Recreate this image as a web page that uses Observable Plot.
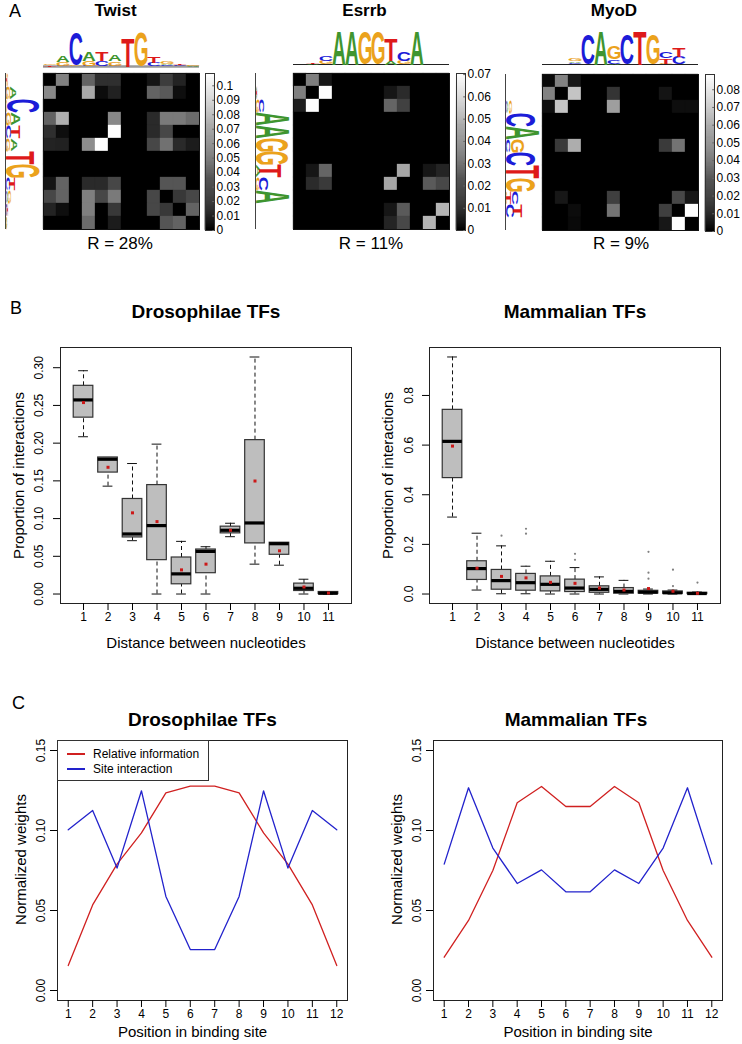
<!DOCTYPE html>
<html><head><meta charset="utf-8">
<script src="https://cdn.jsdelivr.net/npm/d3@7"></script>
<script src="https://cdn.jsdelivr.net/npm/@observablehq/plot@0.6"></script>
<style>
body{margin:0;background:#fff;}
#fig{position:relative;width:742px;height:1044px;overflow:hidden;background:#fff;font-family:"Liberation Sans",Arial,Helvetica,sans-serif;}
</style></head><body><div id="fig"></div>
<script>
// ---------------- DATA ----------------
const positions = [1,2,3,4,5,6,7,8,9,10,11,12];
const motifNames = ["Twist","Esrrb","MyoD"];
const motifR = ["R = 28%","R = 11%","R = 9%"];

// Panel A: interaction matrices (rows/cols = positions 1..12)
const twistMatrix = [
  [0,0.055,0,0.042,0.02,0.02,0,0,0.009,0.026,0.015,0],
  [0.058,0,0,0.072,0.005,0.014,0,0,0.042,0.038,0.006,0],
  [0,0,0,0,0,0,0,0,0,0,0,0],
  [0.042,0.075,0,0,0,0.058,0,0,0.018,0.052,0.052,0.046],
  [0.02,0.006,0,0,0,0.108,0,0,0.018,0.03,0,0],
  [0.015,0.014,0,0.06,0.108,0,0,0,0.03,0.048,0.018,0.012],
  [0,0,0,0,0,0,0,0,0,0,0,0],
  [0,0,0,0,0,0,0,0,0,0,0,0],
  [0.009,0.042,0,0.018,0.018,0.03,0,0,0,0.036,0.036,0],
  [0.03,0.042,0,0.054,0.03,0.052,0,0,0.03,0,0.024,0.03],
  [0.015,0.006,0,0.054,0,0.024,0,0,0.03,0.024,0,0.042],
  [0,0,0,0.046,0,0.012,0,0,0,0.036,0.042,0]
];
const esrrbMatrix = [
  [0,0.035,0.006,0,0,0,0,0,0,0,0,0],
  [0.035,0,0.07,0,0,0,0,0.006,0.012,0,0,0],
  [0.008,0.07,0,0,0,0,0,0.028,0.018,0,0,0],
  [0,0,0,0,0,0,0,0,0,0,0,0],
  [0,0,0,0,0,0,0,0,0,0,0,0],
  [0,0,0,0,0,0,0,0,0,0,0,0],
  [0,0,0,0,0,0,0,0,0,0,0,0],
  [0,0.006,0.028,0,0,0,0,0,0.046,0,0.006,0.01],
  [0,0.012,0.016,0,0,0,0,0.046,0,0,0.025,0.02],
  [0,0,0,0,0,0,0,0,0,0,0,0],
  [0,0,0,0,0,0,0,0.006,0.025,0,0,0.05],
  [0,0,0,0,0,0,0,0.01,0.02,0,0.05,0]
];
const myodMatrix = [
  [0.003,0.045,0.008,0,0,0,0,0,0,0,0,0],
  [0.045,0,0.068,0,0,0.018,0,0,0,0.007,0,0],
  [0.005,0.068,0,0,0,0.055,0,0,0,0,0.005,0.005],
  [0,0,0,0,0,0,0,0,0,0,0,0],
  [0,0,0,0,0,0,0,0,0,0,0,0],
  [0,0.02,0.06,0,0,0,0,0,0,0.02,0.04,0],
  [0,0,0,0,0,0,0,0,0,0,0,0],
  [0,0,0,0,0,0,0,0,0,0,0,0],
  [0,0,0,0,0,0,0,0,0,0,0,0],
  [0,0.008,0,0,0,0.022,0,0,0,0,0.025,0.008],
  [0,0,0.004,0,0,0.04,0,0,0,0.022,0,0.088],
  [0,0,0.003,0,0,0,0,0,0,0.008,0.088,0]
];
const colorbarMax = [0.1085, 0.0705, 0.0886];
const twistBarTicks = [0,0.01,0.02,0.03,0.04,0.05,0.06,0.07,0.08,0.09,0.1];
const esrrbBarTicks = [0,0.01,0.02,0.03,0.04,0.05,0.06,0.07];
const myodBarTicks = [0,0.01,0.02,0.03,0.04,0.05,0.06,0.07,0.08];

// sequence logos: per position, [letter, bits] from bottom to top
const twistLogo = [
  [["T",0.06],["G",0.06]],
  [["C",0.05],["G",0.2],["A",0.38]],
  [["G",0.06],["C",1.9]],
  [["C",0.05],["G",0.28],["A",0.5]],
  [["G",0.05],["C",0.28],["T",0.5]],
  [["C",0.05],["G",0.25],["A",0.38]],
  [["T",1.65]],
  [["G",1.95]],
  [["C",0.18],["T",0.38]],
  [["C",0.06],["A",0.08],["G",0.12]],
  [["G",0.05],["C",0.05],["T",0.1]],
  [["A",0.04],["G",0.07]]
];
const esrrbLogo = [
  [],
  [["A",0.04],["T",0.06]],
  [["G",0.22],["C",0.3]],
  [["A",1.9]],
  [["A",1.9]],
  [["G",1.9]],
  [["G",1.9]],
  [["A",0.22],["T",1.28]],
  [["G",0.2],["C",0.52]],
  [["A",1.9]],
  [],
  []
];
const myodLogo = [
  [],
  [],
  [["C",0.1],["A",0.1],["G",0.12]],
  [["C",1.72]],
  [["A",1.9]],
  [["A",0.05],["C",0.24],["G",0.76]],
  [["C",1.72]],
  [["T",1.9]],
  [["G",1.72]],
  [["G",0.05],["T",0.3],["C",0.38]],
  [["C",0.44],["T",0.5]],
  []
];

// Panel B: boxplot statistics per distance
const distances = [1,2,3,4,5,6,7,8,9,10,11];
const droWhiskLow  = [0.2085,0.143,0.0707,0,0,0,0.076,0.0396,0.0382,0,0];
const droQ1        = [0.2338,0.161,0.075,0.0449,0.0129,0.0276,0.0804,0.0671,0.052,0.004,0];
const droMedian    = [0.2573,0.1787,0.0796,0.0907,0.0267,0.0565,0.0845,0.0942,0.0667,0.0076,0.001];
const droQ3        = [0.276,0.181,0.126,0.1444,0.0484,0.059,0.0893,0.204,0.068,0.0138,0.0027];
const droWhiskHigh = [0.296,0.181,0.173,0.1987,0.0698,0.0627,0.0938,0.3142,0.068,0.0196,0.003];
const droMean      = [0.2538,0.168,0.1076,0.096,0.032,0.0396,0.0845,0.1498,0.0573,0.0093,0.0013];

const mamWhiskLow  = [0.31,0.016,0.001,0.001,0,0,0,0,0,0,0];
const mamQ1        = [0.467,0.0567,0.0174,0.0134,0.0105,0.008,0.005,0.0013,0.002,0.001,0];
const mamMedian    = [0.615,0.1025,0.054,0.0457,0.039,0.024,0.0188,0.0105,0.0075,0.005,0.002];
const mamQ3        = [0.742,0.132,0.097,0.081,0.071,0.058,0.031,0.024,0.013,0.0105,0.005];
const mamWhiskHigh = [0.955,0.245,0.194,0.112,0.132,0.1065,0.069,0.055,0.02,0.016,0.008];
const mamMean      = [0.596,0.104,0.071,0.065,0.047,0.043,0.024,0.016,0.022,0.011,0.003];
const mamOutDist   = [3,4,4,6,6,9,9,9,10,10,11];
const mamOutVal    = [0.235,0.263,0.243,0.162,0.1377,0.17,0.086,0.062,0.098,0.032,0.046];

const droYTicks = [0,0.05,0.10,0.15,0.20,0.25,0.30];
const mamYTicks = [0,0.2,0.4,0.6,0.8];

// Panel C: normalized weights per position
const droRelInfo = [0.0156,0.0535,0.079,0.0985,0.1235,0.1277,0.1277,0.1235,0.0985,0.079,0.0535,0.0156];
const droSiteInt = [0.1004,0.1125,0.0765,0.1248,0.0588,0.0256,0.0256,0.0588,0.1248,0.0765,0.1125,0.1004];
const mamRelInfo = [0.0208,0.0438,0.075,0.1173,0.1275,0.115,0.115,0.1275,0.1173,0.075,0.0438,0.0208];
const mamSiteInt = [0.079,0.1267,0.089,0.0669,0.0754,0.0617,0.0617,0.0754,0.0669,0.089,0.1267,0.079];
const weightTicks = [0,0.05,0.10,0.15];
const legendLabels = ["Relative information","Site interaction"];

// ---------------- STYLE ----------------
const FONT = '"Liberation Sans", Arial, Helvetica, sans-serif';
const LETTER_COLORS = {A:"#3f952f", C:"#1c1cd8", G:"#eba21c", T:"#de1a1a"};
const RED = "#d02020", BLUE = "#2222cc";
const baseStyle = {fontFamily: FONT, fontSize: "12px", color: "#000", background: "transparent", overflow: "visible"};
const mid = {textAnchor: "middle", lineAnchor: "middle"};

const fig = document.getElementById("fig");
function place(node, left, top) {
  node.style.position = "absolute";
  node.style.left = left + "px";
  node.style.top = top + "px";
  fig.appendChild(node);
  return node;
}
function label(text, x, capCenterY, size, {bold = false, anchor = "start"} = {}) {
  const div = document.createElement("div");
  div.textContent = text;
  div.style.cssText = `position:absolute;white-space:nowrap;line-height:1;font-size:${size}px;font-weight:${bold ? "bold" : "normal"};font-family:${FONT};color:#000;`;
  div.style.left = x + "px";
  div.style.top = (capCenterY - 0.49 * size) + "px";
  if (anchor === "middle") div.style.transform = "translateX(-50%)";
  fig.appendChild(div);
  return div;
}

// ---------------- PANEL A ----------------
function heatmap(matrix, max) {
  const cells = matrix.flatMap((row, r) => row.map((v, c) => ({r, c, v})));
  return Plot.plot({
    width: 156, height: 156, margin: 0, style: baseStyle,
    x: {type: "band", domain: d3.range(12), padding: 0, axis: null},
    y: {type: "band", domain: d3.range(12), padding: 0, axis: null},
    color: {type: "linear", domain: [0, max], range: ["black", "white"], clamp: true},
    marks: [
      Plot.cell(cells, {x: "c", y: "r", fill: "v", stroke: "v", strokeWidth: 0.3}),
      Plot.frame({stroke: "#111"})
    ]
  });
}

function colorbar(max, ticks) {
  const slices = d3.range(160).map(i => [i * max / 160, (i + 1) * max / 160]);
  return Plot.plot({
    width: 50, height: 175, marginTop: 8, marginBottom: 10, marginLeft: 5, marginRight: 36,
    style: baseStyle,
    x: {domain: [0, 1], axis: null},
    y: {domain: [0, max], axis: null},
    color: {type: "linear", domain: [0, max], range: ["black", "white"]},
    marks: [
      Plot.rect(slices, {x1: 0, x2: 1, y1: d => d[0], y2: d => d[1], fill: d => (d[0] + d[1]) / 2, stroke: d => (d[0] + d[1]) / 2, strokeWidth: 0.5}),
      Plot.frame({stroke: "#333"}),
      Plot.ruleY(ticks, {y: d => d, x1: 0.8, x2: 1, stroke: "#666"}),
      Plot.text(ticks, {y: d => d, text: d => String(+d.toFixed(2)), frameAnchor: "right", textAnchor: "start", lineAnchor: "middle", dx: 2, fontSize: 12})
    ]
  });
}

const ctx = document.createElement("canvas").getContext("2d");
ctx.font = 'bold 100px "Liberation Sans"';
ctx.textAlign = "left"; ctx.textBaseline = "alphabetic";
const metricCache = {};
function metrics(ch) {
  if (!metricCache[ch]) {
    const m = ctx.measureText(ch);
    const L = m.actualBoundingBoxLeft, R = m.actualBoundingBoxRight;
    const A = m.actualBoundingBoxAscent, D = m.actualBoundingBoxDescent;
    metricCache[ch] = {L, A, D, w: L + R, h: A + D};
  }
  return metricCache[ch];
}

function logo(cols, orient, {axisStroke = "#222", axisWidth = 1} = {}) {
  const letters = [];
  cols.forEach((col, c) => {
    let y = 0;
    col.forEach(([letter, bits]) => { letters.push({pos: c + 1, letter, y0: y, y1: y + bits}); y += bits; });
  });
  const top = orient === "top";
  const plot = Plot.plot({
    width: top ? 156 : 40, height: top ? 40 : 156, margin: 0, style: baseStyle,
    x: top ? {domain: [0.5, 12.5], range: [0, 156], axis: null} : {domain: [0, 2], range: [3, 38], axis: null},
    y: top ? {domain: [0, 2], range: [37, 2], axis: null} : {domain: [0.5, 12.5], range: [0, 156], axis: null},
    color: {type: "identity"},
    marks: [
      top ? Plot.ruleY([0], {stroke: axisStroke, strokeWidth: axisWidth})
          : Plot.ruleX([0], {stroke: axisStroke, strokeWidth: axisWidth}),
      Plot.text(letters, top
        ? {x: "pos", y: d => (d.y0 + d.y1) / 2, text: "letter", fill: d => LETTER_COLORS[d.letter]}
        : {y: "pos", x: d => (d.y0 + d.y1) / 2, text: "letter", fill: d => LETTER_COLORS[d.letter]})
    ]
  });
  const xs = plot.scale("x"), ys = plot.scale("y");
  const texts = plot.querySelectorAll('g[aria-label="text"] text');
  texts.forEach((t, i) => {
    const d = letters[i];
    const m = metrics(d.letter);
    t.setAttribute("x", 0); t.setAttribute("y", 0); t.setAttribute("dy", 0);
    t.setAttribute("text-anchor", "start");
    t.style.fontSize = "100px"; t.style.fontWeight = "bold"; t.style.fontFamily = '"Liberation Sans"';
    t.style.dominantBaseline = "alphabetic";
    let mat;
    if (top) {
      const X0 = xs.apply(d.pos - 0.5), X1 = xs.apply(d.pos + 0.5);
      const Yb = ys.apply(d.y0), Yt = ys.apply(d.y1);
      const a = (X1 - X0) / m.w, dd = (Yb - Yt) / m.h;
      mat = [a, 0, 0, dd, X0 + m.L * a, Yt + m.A * dd];
    } else {
      const Y0 = ys.apply(d.pos - 0.5), Y1 = ys.apply(d.pos + 0.5);
      const Xb = xs.apply(d.y0), Xt = xs.apply(d.y1);
      const S = Y1 - Y0, H = Xt - Xb;
      mat = [0, S / m.w, -H / m.h, 0, Xb + m.D * H / m.h, Y0 + m.L * S / m.w];
    }
    t.setAttribute("transform", `matrix(${mat.join(",")})`);
  });
  return plot;
}

const heatLeft = [43, 293, 542];
const heatTop = [73, 73, 74];
const matrices = [twistMatrix, esrrbMatrix, myodMatrix];
const logos = [twistLogo, esrrbLogo, myodLogo];
const barTicks = [twistBarTicks, esrrbBarTicks, myodBarTicks];
const logoBaseline = [66, 63.5, 64];
const leftAxisX = [5, 255, 505];
const barLeft = [205, 456, 705];
const titleX = [115.5, 364.5, 614];
const rX = [120, 371, 621];

for (let k = 0; k < 3; k++) {
  place(heatmap(matrices[k], colorbarMax[k]), heatLeft[k], heatTop[k]);
  const topOpts = k === 0 ? {axisStroke: "#9a9a9a", axisWidth: 2.5} : {axisStroke: "#222", axisWidth: 1};
  place(logo(logos[k], "top", topOpts), heatLeft[k], logoBaseline[k] - 37);
  place(logo(logos[k], "left", {axisStroke: "#444", axisWidth: 1}), leftAxisX[k] - 3, heatTop[k]);
  place(colorbar(colorbarMax[k], barTicks[k]), barLeft[k] - 5, heatTop[k] - 8);
  label(motifNames[k], titleX[k], 10.5, 17, {bold: true, anchor: "middle"});
  label(motifR[k], rX[k], 243, 17, {anchor: "middle"});
}
label("A", 9, 11, 18);

// ---------------- PANEL B ----------------
function boxPlot({lo, q1, med, q3, hi, mean, outX = [], outY = [], yDomain, yTicks, fmt, width, marginLeft, marginRight, tickDx, titleDx}) {
  const rows = distances.map((d, i) => ({d, lo: lo[i], q1: q1[i], med: med[i], q3: q3[i], hi: hi[i], mean: mean[i]}));
  const outs = outX.map((d, i) => ({d, v: outY[i]}));
  return Plot.plot({
    width, height: 330, marginTop: 17, marginBottom: 57, marginLeft, marginRight,
    style: baseStyle,
    x: {domain: [0.06, 11.94]},
    y: {domain: yDomain},
    marks: [
      Plot.ruleX(rows, {x: "d", y1: "q3", y2: "hi", stroke: "#111", strokeDasharray: "4,3"}),
      Plot.ruleX(rows, {x: "d", y1: "lo", y2: "q1", stroke: "#111", strokeDasharray: "4,3"}),
      Plot.ruleY(rows, {y: "hi", x1: r => r.d - 0.2, x2: r => r.d + 0.2, stroke: "#111"}),
      Plot.ruleY(rows, {y: "lo", x1: r => r.d - 0.2, x2: r => r.d + 0.2, stroke: "#111"}),
      Plot.rect(rows, {x1: r => r.d - 0.4, x2: r => r.d + 0.4, y1: "q1", y2: "q3", fill: "#bebebe", stroke: "#333", strokeWidth: 1.2}),
      Plot.ruleY(rows, {y: "med", x1: r => r.d - 0.4, x2: r => r.d + 0.4, stroke: "#000", strokeWidth: 3.2}),
      Plot.dot(outs, {x: "d", y: "v", r: 1.1, fill: "#808080"}),
      Plot.dot(rows, {x: "d", y: "mean", symbol: "square", r: 1.7, fill: "#cc1818"}),
      Plot.frame({stroke: "#222"}),
      Plot.axisX({ticks: distances, tickSize: 7, tickPadding: 2, fontSize: 12, label: null}),
      Plot.axisY({ticks: yTicks, tickSize: 7, tickFormat: () => "", label: null}),
      Plot.text(yTicks, {y: d => d, text: fmt, frameAnchor: "left", ...mid, dx: tickDx, rotate: -90, fontSize: 12}),
      Plot.text(["Proportion of interactions"], {text: d => d, frameAnchor: "left", ...mid, dx: titleDx, rotate: -90, fontSize: 15}),
      Plot.text(["Distance between nucleotides"], {text: d => d, frameAnchor: "bottom", ...mid, dy: 40, fontSize: 15})
    ]
  });
}

place(boxPlot({lo: droWhiskLow, q1: droQ1, med: droMedian, q3: droQ3, hi: droWhiskHigh, mean: droMean,
  yDomain: [-0.01257, 0.3268], yTicks: droYTicks, fmt: d => d.toFixed(2),
  width: 370, marginLeft: 60, marginRight: 19, tickDx: -21, titleDx: -41.5}), 0, 330);
place(boxPlot({lo: mamWhiskLow, q1: mamQ1, med: mamMedian, q3: mamQ3, hi: mamWhiskHigh, mean: mamMean,
  outX: mamOutDist, outY: mamOutVal,
  yDomain: [-0.0382, 0.9932], yTicks: mamYTicks, fmt: d => d.toFixed(1),
  width: 372, marginLeft: 59, marginRight: 22, tickDx: -20, titleDx: -41}), 370, 330);
label("B", 10, 307.5, 18);
label("Drosophilae TFs", 206, 311.5, 19, {bold: true, anchor: "middle"});
label("Mammalian TFs", 575, 311.5, 19, {bold: true, anchor: "middle"});

// ---------------- PANEL C ----------------
function linePlot(rel, site, {width, marginLeft, marginRight, titleDx}) {
  const rows = positions.map((p, i) => ({p, rel: rel[i], site: site[i]}));
  return Plot.plot({
    width, height: 314, marginTop: 10, marginBottom: 44, marginLeft, marginRight,
    style: baseStyle,
    x: {domain: [0.56, 12.44]},
    y: {domain: [-0.00625, 0.15625]},
    marks: [
      Plot.line(rows, {x: "p", y: "rel", stroke: RED, strokeWidth: 1.3}),
      Plot.line(rows, {x: "p", y: "site", stroke: BLUE, strokeWidth: 1.3}),
      Plot.frame({stroke: "#222"}),
      Plot.axisX({ticks: positions, tickSize: 7, tickPadding: 2, fontSize: 12, label: null}),
      Plot.axisY({ticks: weightTicks, tickSize: 7, tickFormat: () => "", label: null}),
      Plot.text(weightTicks, {y: d => d, text: d => d.toFixed(2), frameAnchor: "left", ...mid, dx: -16.5, rotate: -90, fontSize: 12}),
      Plot.text(["Normalized weights"], {text: d => d, frameAnchor: "left", ...mid, dx: -36, dy: -11, rotate: -90, fontSize: 15}),
      Plot.text(["Position in binding site"], {text: d => d, frameAnchor: "bottom", ...mid, dy: 32, dx: titleDx, fontSize: 15})
    ]
  });
}
place(linePlot(droRelInfo, droSiteInt, {width: 370, marginLeft: 57, marginRight: 23, titleDx: -10}), 0, 730);
place(linePlot(mamRelInfo, mamSiteInt, {width: 372, marginLeft: 63, marginRight: 20, titleDx: 0}), 370, 730);
label("C", 12, 702.5, 18);
label("Drosophilae TFs", 202.5, 719, 19, {bold: true, anchor: "middle"});
label("Mammalian TFs", 576, 719, 19, {bold: true, anchor: "middle"});

// legend (left panel C)
const legend = document.createElement("div");
legend.style.cssText = "position:absolute;left:57px;top:740px;width:152px;height:41px;box-sizing:border-box;border:1px solid #333;background:#fff;";
[RED, BLUE].forEach((col, i) => {
  const sw = document.createElement("div");
  sw.style.cssText = `position:absolute;left:9px;top:${12 + 15 * i}px;width:18px;height:2px;background-color:${col};`;
  legend.appendChild(sw);
  const tx = document.createElement("div");
  tx.textContent = legendLabels[i];
  tx.style.cssText = `position:absolute;left:35px;top:${13 + 15 * i - 6}px;font-size:12px;line-height:1;font-family:${FONT};white-space:nowrap;color:#000;`;
  legend.appendChild(tx);
});
fig.appendChild(legend);
</script>
</body></html>
